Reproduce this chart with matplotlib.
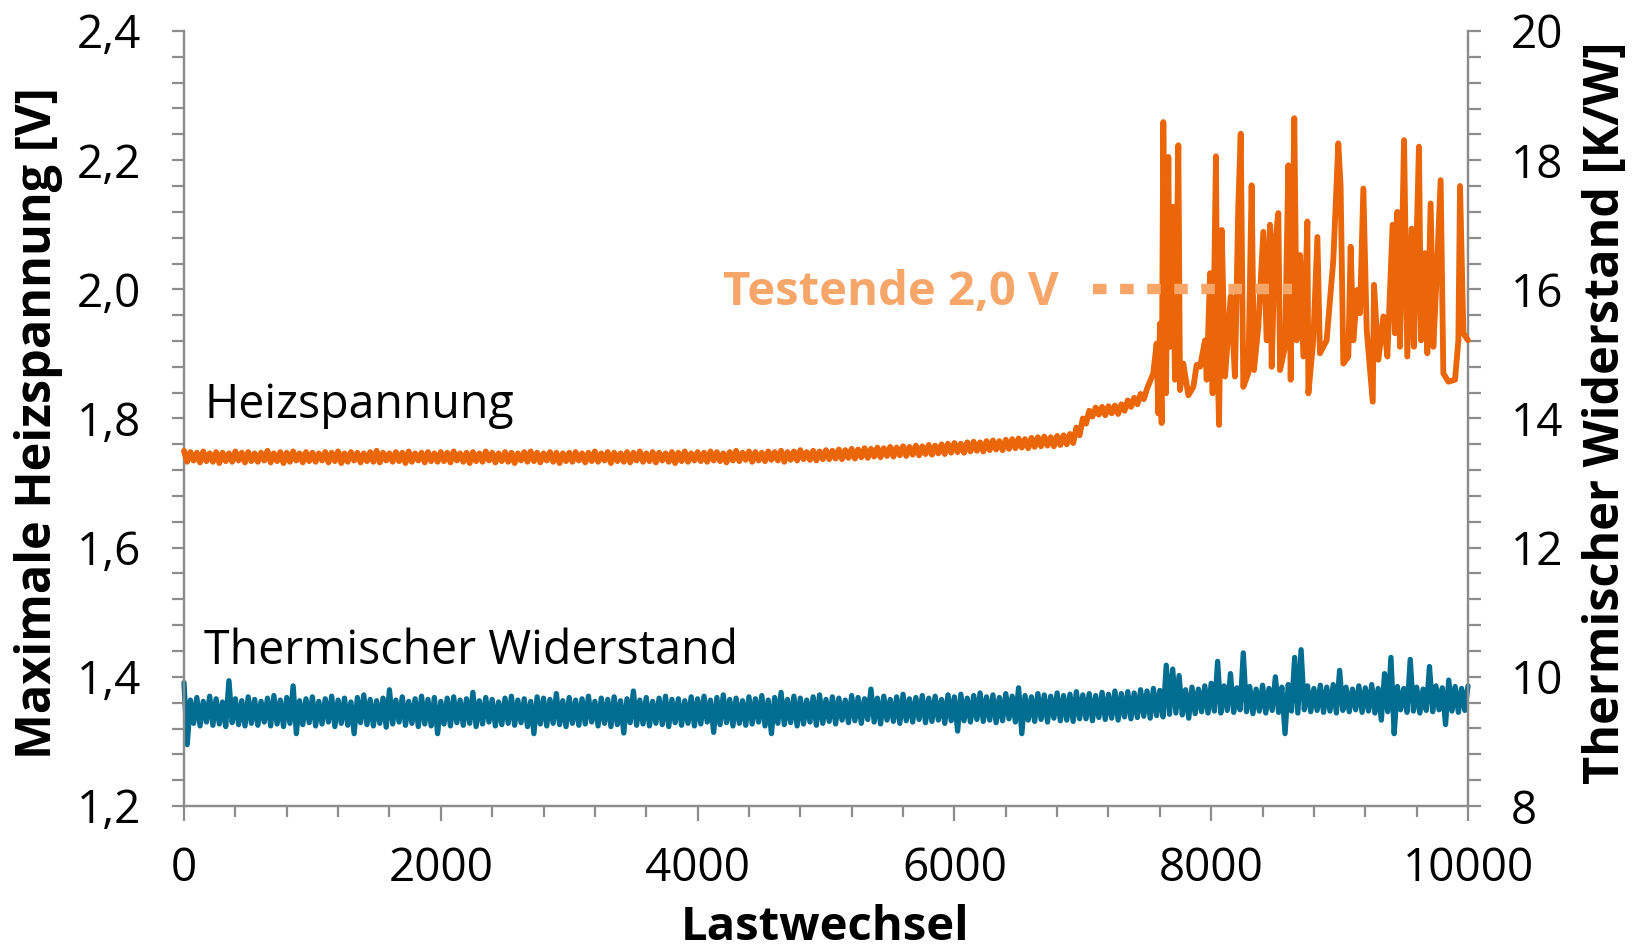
import numpy as np
import matplotlib.pyplot as plt
from matplotlib.ticker import MultipleLocator, FuncFormatter

# === Daten ===
# Heizspannung [V], linke Achse: ruhiger Teil als Ober-/Unterkante des Rauschbands
heiz_x_oben = np.arange(0, 7550, 50)
heiz_oben = [
    1.750, 1.748, 1.747, 1.749, 1.746, 1.748, 1.747, 1.746, 1.749, 1.747, 1.748, 1.746, 1.747, 1.750, 1.746, 1.748, 1.747, 1.749, 1.746, 1.748,
    1.747, 1.746, 1.748, 1.747, 1.749, 1.746, 1.748, 1.747, 1.746, 1.748, 1.750, 1.747, 1.746, 1.748, 1.747, 1.749, 1.746, 1.747, 1.748, 1.746,
    1.748, 1.747, 1.749, 1.746, 1.747, 1.748, 1.746, 1.749, 1.747, 1.746, 1.748, 1.747, 1.746, 1.748, 1.749, 1.747, 1.746, 1.748, 1.747, 1.746,
    1.747, 1.748, 1.746, 1.747, 1.749, 1.746, 1.748, 1.747, 1.746, 1.748, 1.747, 1.749, 1.746, 1.748, 1.747, 1.746, 1.748, 1.747, 1.749, 1.746,
    1.748, 1.747, 1.749, 1.748, 1.746, 1.748, 1.750, 1.747, 1.749, 1.748, 1.747, 1.749, 1.748, 1.750, 1.748, 1.749, 1.751, 1.748, 1.750, 1.749,
    1.751, 1.750, 1.752, 1.751, 1.753, 1.752, 1.754, 1.753, 1.755, 1.754, 1.756, 1.755, 1.757, 1.756, 1.758, 1.757, 1.759, 1.758, 1.760, 1.761,
    1.762, 1.761, 1.763, 1.764, 1.763, 1.765, 1.766, 1.765, 1.767, 1.768, 1.769, 1.768, 1.770, 1.771, 1.772, 1.771, 1.773, 1.774, 1.776, 1.786,
    1.800, 1.812, 1.817, 1.818, 1.819, 1.820, 1.822, 1.828, 1.832, 1.838, 1.846,
]
heiz_x_unten = np.arange(25, 7500, 50)
heiz_unten = [
    1.733, 1.735, 1.732, 1.734, 1.733, 1.731, 1.734, 1.733, 1.735, 1.732, 1.734, 1.733, 1.735, 1.732, 1.734, 1.731, 1.733, 1.735, 1.732, 1.734,
    1.733, 1.735, 1.732, 1.734, 1.731, 1.733, 1.735, 1.732, 1.734, 1.733, 1.732, 1.735, 1.733, 1.734, 1.731, 1.733, 1.735, 1.732, 1.734, 1.733,
    1.734, 1.732, 1.735, 1.733, 1.731, 1.734, 1.733, 1.735, 1.732, 1.734, 1.733, 1.731, 1.735, 1.733, 1.734, 1.732, 1.735, 1.733, 1.731, 1.734,
    1.733, 1.735, 1.732, 1.734, 1.733, 1.735, 1.731, 1.734, 1.733, 1.732, 1.735, 1.733, 1.734, 1.732, 1.735, 1.733, 1.731, 1.734, 1.733, 1.735,
    1.734, 1.733, 1.735, 1.734, 1.732, 1.735, 1.734, 1.736, 1.733, 1.735, 1.734, 1.736, 1.735, 1.733, 1.736, 1.735, 1.737, 1.736, 1.735, 1.737,
    1.737, 1.738, 1.737, 1.739, 1.738, 1.740, 1.739, 1.741, 1.740, 1.742, 1.741, 1.743, 1.742, 1.744, 1.743, 1.745, 1.744, 1.746, 1.745, 1.747,
    1.748, 1.747, 1.749, 1.750, 1.749, 1.751, 1.752, 1.751, 1.753, 1.754, 1.755, 1.754, 1.756, 1.757, 1.758, 1.757, 1.759, 1.760, 1.762, 1.774,
    1.792, 1.803, 1.806, 1.805, 1.808, 1.807, 1.812, 1.818, 1.822, 1.830,
]
# Heizspannung ab ca. 7500 Lastwechseln (Spitzen)
heiz_x_spitzen = [
    7549, 7575, 7588, 7601, 7614, 7627, 7648, 7666, 7679, 7700, 7718, 7744,
    7757, 7783, 7822, 7861, 7887, 7913, 7952, 7965, 7991, 8011, 8037, 8048,
    8061, 8082, 8108, 8152, 8185, 8211, 8230, 8250, 8289, 8315, 8333, 8367,
    8406, 8432, 8458, 8471, 8497, 8523, 8536, 8575, 8601, 8619, 8647, 8666,
    8692, 8718, 8749, 8757, 8795, 8827, 8847, 8899, 8951, 8990, 9008, 9029,
    9068, 9086, 9107, 9138, 9159, 9185, 9211, 9258, 9268, 9302, 9341, 9372,
    9413, 9431, 9450, 9470, 9502, 9527, 9561, 9579, 9618, 9634, 9665, 9683,
    9709, 9730, 9751, 9787, 9808, 9847, 9899, 9925, 9938, 9964, 10000,
]
heiz_v_spitzen = [
    1.870, 1.916, 1.808, 1.947, 1.793, 2.259, 1.839, 2.205, 1.911, 2.128, 1.860, 2.223,
    1.844, 1.885, 1.836, 1.849, 1.883, 1.880, 1.921, 1.860, 2.025, 1.839, 2.206, 1.901,
    1.790, 2.092, 1.865, 1.989, 1.865, 2.128, 2.241, 1.849, 1.870, 2.161, 1.875, 1.942,
    2.089, 1.921, 2.100, 1.880, 2.071, 2.118, 1.875, 1.911, 2.192, 1.860, 2.265, 1.921,
    2.053, 1.896, 2.105, 1.839, 1.921, 2.081, 1.901, 1.921, 2.045, 2.226, 2.159, 1.885,
    1.896, 2.066, 1.921, 1.999, 1.963, 2.156, 1.937, 1.826, 2.007, 1.891, 1.958, 1.896,
    2.100, 1.932, 2.120, 1.911, 2.231, 1.896, 2.094, 1.911, 2.221, 1.921, 2.056, 1.901,
    2.133, 1.911, 1.999, 2.169, 1.870, 1.857, 1.860, 1.921, 2.160, 1.932, 1.921,
]

# Thermischer Widerstand [K/W], rechte Achse: Ober-/Unterkante des Rauschbands
rth_x_oben = np.arange(0, 10001, 50)
rth_oben = [
    9.91, 9.64, 9.68, 9.62, 9.70, 9.66, 9.61, 9.94, 9.66, 9.63, 9.69, 9.65, 9.62, 9.67, 9.71, 9.64, 9.68, 9.86, 9.63, 9.66,
    9.69, 9.62, 9.66, 9.70, 9.64, 9.67, 9.61, 9.68, 9.72, 9.65, 9.63, 9.67, 9.80, 9.64, 9.69, 9.62, 9.66, 9.70, 9.65, 9.68,
    9.62, 9.67, 9.69, 9.64, 9.66, 9.76, 9.63, 9.68, 9.65, 9.61, 9.67, 9.70, 9.64, 9.66, 9.62, 9.69, 9.67, 9.65, 9.74, 9.63,
    9.68, 9.64, 9.66, 9.70, 9.62, 9.67, 9.65, 9.69, 9.63, 9.66, 9.78, 9.64, 9.68, 9.62, 9.67, 9.70, 9.65, 9.66, 9.63, 9.69,
    9.66, 9.70, 9.64, 9.68, 9.72, 9.65, 9.67, 9.63, 9.69, 9.66, 9.71, 9.64, 9.68, 9.76, 9.65, 9.70, 9.67, 9.64, 9.69, 9.72,
    9.65, 9.69, 9.67, 9.64, 9.71, 9.68, 9.66, 9.81, 9.67, 9.70, 9.65, 9.69, 9.73, 9.66, 9.68, 9.71, 9.67, 9.70, 9.65, 9.72,
    9.69, 9.73, 9.67, 9.71, 9.75, 9.69, 9.72, 9.68, 9.74, 9.70, 9.83, 9.71, 9.69, 9.74, 9.72, 9.70, 9.75, 9.71, 9.73, 9.77,
    9.72, 9.74, 9.71, 9.76, 9.73, 9.78, 9.74, 9.77, 9.75, 9.80, 9.78, 9.82, 9.79, 10.18, 10.12, 10.02, 9.80, 9.84, 9.81, 9.86,
    9.90, 10.24, 9.86, 10.05, 9.83, 10.37, 9.85, 9.81, 9.87, 9.82, 10.00, 9.84, 9.88, 10.30, 10.42, 9.86, 9.82, 9.87, 9.84, 9.88,
    10.10, 9.84, 9.81, 9.86, 9.83, 9.88, 9.82, 10.05, 10.30, 9.85, 9.82, 10.27, 9.84, 9.81, 10.16, 9.86, 9.83, 9.95, 9.85, 9.82,
    9.86,
]
rth_x_unten = np.arange(25, 10000, 50)
rth_unten = [
    8.95, 9.28, 9.24, 9.30, 9.25, 9.27, 9.23, 9.29, 9.26, 9.24, 9.28, 9.25, 9.30, 9.24, 9.27, 9.23, 9.28, 9.12, 9.26, 9.29,
    9.24, 9.27, 9.30, 9.23, 9.28, 9.25, 9.12, 9.29, 9.26, 9.24, 9.28, 9.22, 9.27, 9.30, 9.25, 9.28, 9.23, 9.27, 9.24, 9.12,
    9.27, 9.24, 9.29, 9.25, 9.28, 9.23, 9.27, 9.30, 9.24, 9.26, 9.28, 9.25, 9.29, 9.23, 9.12, 9.27, 9.24, 9.28, 9.26, 9.23,
    9.28, 9.25, 9.27, 9.30, 9.24, 9.28, 9.23, 9.26, 9.13, 9.29, 9.25, 9.27, 9.24, 9.28, 9.26, 9.23, 9.29, 9.25, 9.28, 9.24,
    9.27, 9.30, 9.14, 9.26, 9.29, 9.24, 9.28, 9.25, 9.27, 9.30, 9.24, 9.12, 9.28, 9.26, 9.29, 9.24, 9.27, 9.30, 9.25, 9.28,
    9.31, 9.27, 9.33, 9.29, 9.32, 9.28, 9.34, 9.30, 9.27, 9.33, 9.31, 9.28, 9.32, 9.30, 9.34, 9.29, 9.31, 9.33, 9.28, 9.32,
    9.16, 9.32, 9.30, 9.34, 9.31, 9.33, 9.29, 9.32, 9.35, 9.30, 9.12, 9.33, 9.31, 9.34, 9.30, 9.36, 9.32, 9.33, 9.31, 9.35,
    9.35, 9.32, 9.37, 9.34, 9.36, 9.33, 9.38, 9.35, 9.37, 9.39, 9.36, 9.40, 9.38, 9.42, 9.44, 9.41, 9.36, 9.43, 9.46, 9.44,
    9.47, 9.44, 9.48, 9.45, 9.49, 9.46, 9.43, 9.47, 9.44, 9.48, 9.45, 9.12, 9.47, 9.44, 9.49, 9.46, 9.48, 9.45, 9.47, 9.44,
    9.48, 9.46, 9.49, 9.45, 9.47, 9.44, 9.33, 9.46, 9.12, 9.49, 9.45, 9.47, 9.44, 9.48, 9.46, 9.49, 9.26, 9.47, 9.45, 9.48,
]

testende_v = 2.0
testende_bereich = [7080, 8630]

# === Farben / Schrift ===
orange = "#EB6608"
orange_hell = "#F7A66A"
blau = "#006D91"
grau = "#8C8C8C"
plt.rcParams['font.family'] = ['Open Sans', 'DejaVu Sans']


def verzahnen(x_a, v_a, x_b, v_b):
    # Ober- und Unterkante abwechselnd verbinden -> dichtes Rauschband
    n = len(x_a) + len(x_b)
    x = np.empty(n)
    v = np.empty(n)
    x[0::2], v[0::2] = x_a, v_a
    x[1::2], v[1::2] = x_b, v_b
    return x, v


hx, hv = verzahnen(heiz_x_oben, heiz_oben, heiz_x_unten, heiz_unten)
heiz_x = np.concatenate([hx, heiz_x_spitzen])
heiz_v = np.concatenate([hv, heiz_v_spitzen])
rth_x, rth_v = verzahnen(rth_x_oben, rth_oben, rth_x_unten, rth_unten)

fig = plt.figure(figsize=(16.38, 9.49), dpi=100)
ax = fig.add_axes([184 / 1638, 1 - 806 / 949, 1284 / 1638, 775 / 949])
ax2 = ax.twinx()

ax2.plot(rth_x, rth_v, color=blau, lw=3.8, solid_joinstyle='round',
         solid_capstyle='round', clip_on=False)
ax.plot(heiz_x, heiz_v, color=orange, lw=4.2, solid_joinstyle='round',
        solid_capstyle='round', clip_on=False, zorder=3)
ax.plot(testende_bereich, [testende_v, testende_v], color=orange_hell, lw=7.5,
        ls=(0, (1.3, 1.3)), dash_capstyle='butt', zorder=4)
ax.set_zorder(ax2.get_zorder() + 1)
ax.patch.set_visible(False)

ax.set_xlim(0, 10000)
ax.set_ylim(1.2, 2.4)
ax2.set_ylim(8, 20)

for a in (ax, ax2):
    a.spines['top'].set_visible(False)
    for s in ('left', 'right', 'bottom'):
        a.spines[s].set_color(grau)
        a.spines[s].set_linewidth(1.6)

ax.xaxis.set_major_locator(MultipleLocator(2000))
ax.xaxis.set_minor_locator(MultipleLocator(400))
ax.yaxis.set_major_locator(MultipleLocator(0.2))
ax.yaxis.set_minor_locator(MultipleLocator(0.04))
ax2.yaxis.set_major_locator(MultipleLocator(2))
ax2.yaxis.set_minor_locator(MultipleLocator(0.4))
ax.yaxis.set_major_formatter(FuncFormatter(lambda v, p: f"{v:.1f}".replace('.', ',')))

ax.tick_params(axis='x', which='major', direction='out', length=11, width=1.6,
               color=grau, labelsize=33, pad=18)
ax.tick_params(axis='x', which='minor', direction='out', length=8, width=1.6, color=grau)
ax.tick_params(axis='y', which='both', direction='out', length=9, width=1.6,
               color=grau, labelsize=33, pad=22)
ax2.tick_params(axis='y', which='both', direction='out', length=9, width=1.6,
                color=grau, labelsize=33, pad=22)

fig.text(39 / 1638, 1 - 423 / 949, "Maximale Heizspannung [V]", rotation=90,
         ha='center', va='center', fontsize=35, fontweight='bold')
fig.text(1607 / 1638, 1 - 413 / 949, "Thermischer Widerstand [K/W]", rotation=90,
         ha='center', va='center', fontsize=35, fontweight='bold')
fig.text(825 / 1638, 1 - 940 / 949, "Lastwechsel", ha='center', va='baseline',
         fontsize=34, fontweight='bold')

ax.text(156, 1.801, "Heizspannung", fontsize=33.5, va='baseline', ha='left')
ax.text(156, 1.420, "Thermischer Widerstand", fontsize=33.5, va='baseline', ha='left')
ax.text(4198, 1.976, "Testende 2,0 V", fontsize=34, va='baseline', ha='left',
        color=orange_hell, fontweight='bold')

fig.savefig("out.png", dpi=100)
